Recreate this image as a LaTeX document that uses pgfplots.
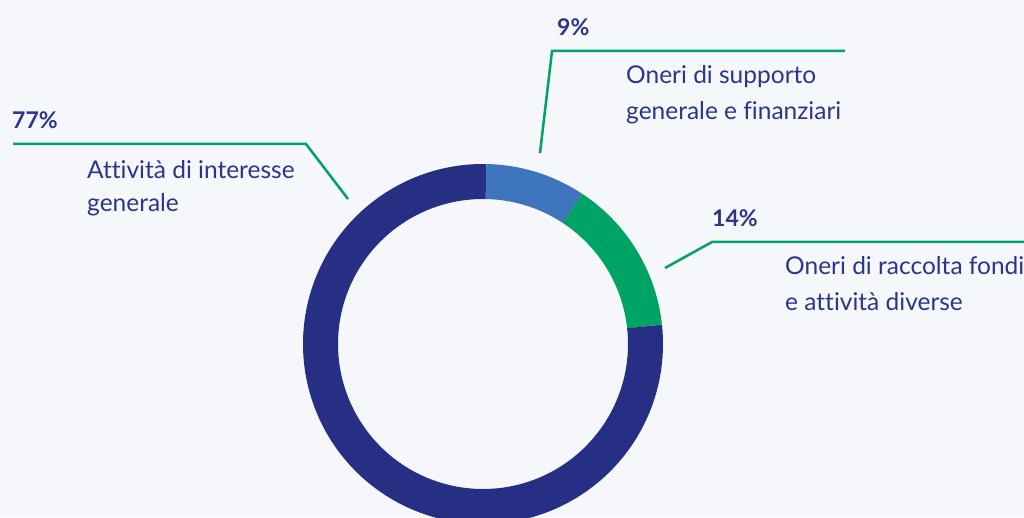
\documentclass[border=0pt]{standalone}
\usepackage{pgfplots}
\pgfplotsset{compat=1.18}
\usepackage{fontspec}
\setmainfont{Lato}[Ligatures=NoCommon]
\definecolor{bgc}{HTML}{F5F7FB}
\definecolor{navy}{HTML}{262F83}
\definecolor{blu}{HTML}{3E74BB}
\definecolor{grn}{HTML}{00A366}
\definecolor{txt}{HTML}{2C3589}
% values (percent)
\def\vA{9}   % Oneri di supporto generale e finanziari
\def\vB{14}  % Oneri di raccolta fondi e attivita diverse
\def\vC{77}  % Attivita di interesse generale
\def\off{1}
\pgfmathsetmacro{\aA}{\off}
\pgfmathsetmacro{\aB}{\off+3.6*\vA}
\pgfmathsetmacro{\aC}{\off+3.6*(\vA+\vB)}
\pgfmathsetmacro{\aD}{\off+3.6*(\vA+\vB+\vC)}
\def\cx{483}
\def\cy{173}
\def\rm{162.5}
\tikzset{pct/.style={inner sep=0pt,anchor=base west,text=txt,font=\fontsize{23}{27}\selectfont\bfseries},
  lbl/.style={inner sep=0pt,anchor=base west,text=txt,font=\fontsize{24.5}{28}\selectfont}}
\begin{document}
\begin{tikzpicture}
\begin{axis}[width=1024pt,height=517pt,scale only axis,
  xmin=0,xmax=1024,ymin=0,ymax=517,hide axis]
\addplot[fill=bgc,draw=none] coordinates {(0,0)(1024,0)(1024,517)(0,517)} -- cycle;
% donut
\addplot[draw=blu,line width=35pt,line cap=butt,domain=\aA:\aB,samples=60]
  ({\cx+\rm*sin(x)},{\cy+\rm*cos(x)});
\addplot[draw=grn,line width=35pt,line cap=butt,domain=\aB:\aC,samples=80]
  ({\cx+\rm*sin(x)},{\cy+\rm*cos(x)});
\addplot[draw=navy,line width=35pt,line cap=butt,domain=\aC:\aD,samples=300]
  ({\cx+\rm*sin(x)},{\cy+\rm*cos(x)});
% leader lines
\addplot[draw=grn,line width=2.5pt] coordinates {(13,373)(306,373)(348,318)};
\addplot[draw=grn,line width=2.5pt] coordinates {(540,364)(552,466)(845,466)};
\addplot[draw=grn,line width=2.5pt] coordinates {(665,249)(712,275)(1024,275)};
% labels
\node[pct] at (axis cs:12,388) {77\%};
\node[lbl] at (axis cs:87,338) {Attività di interesse};
\node[lbl] at (axis cs:87,305) {generale};
\node[pct] at (axis cs:557,481) {9\%};
\node[lbl] at (axis cs:626,433) {Oneri di supporto};
\node[lbl] at (axis cs:626,397) {generale e finanziari};
\node[pct] at (axis cs:712,290) {14\%};
\node[lbl] at (axis cs:785,242) {Oneri di raccolta fondi};
\node[lbl] at (axis cs:785,207) {e attività diverse};
\end{axis}
\end{tikzpicture}
\end{document}
